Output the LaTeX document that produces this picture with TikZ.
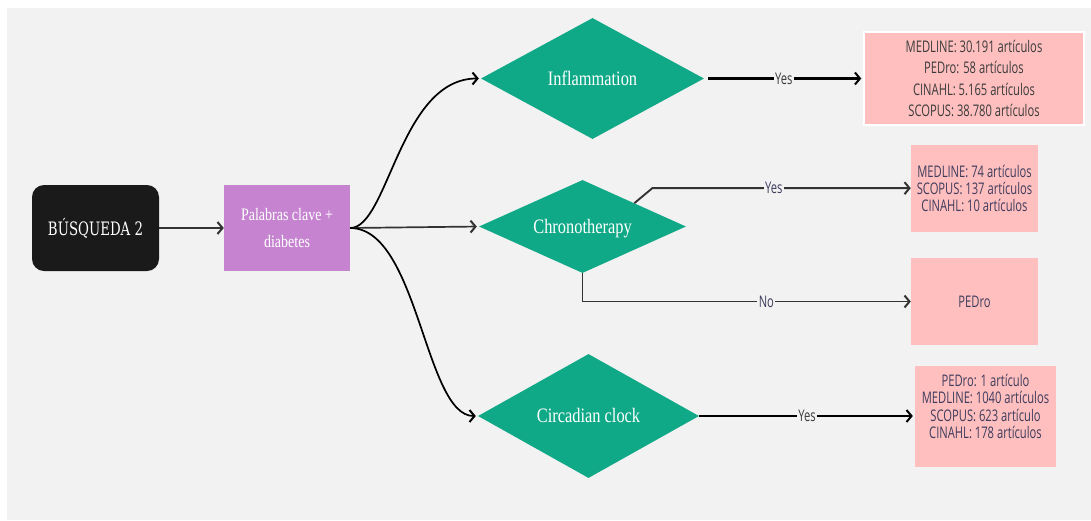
\documentclass[tikz,border=0pt]{standalone}
\usepackage{fontspec}
\usetikzlibrary{arrows.meta,shapes.geometric}
\newfontfamily\slabfont[FakeStretch=0.72]{DejaVu Serif}
\newfontfamily\gfont[FakeStretch=0.8]{Liberation Serif}
\newfontfamily\sfont[FakeStretch=0.7]{Open Sans}
\newcommand\dtxt[1]{\smash{\makebox[0pt]{\raisebox{-0.33em}{#1}}}}
\definecolor{bg}{HTML}{F2F2F2}
\definecolor{teal}{HTML}{0FA987}
\definecolor{purp}{HTML}{C583D0}
\definecolor{pinkb}{HTML}{FFBFBF}
\definecolor{inkd}{HTML}{1A1A1A}
\definecolor{txtg}{HTML}{3B3B3B}
\definecolor{txtb}{HTML}{3E3C5C}
\definecolor{lineg}{HTML}{333333}
\tikzset{
  startbox/.style={fill=inkd, rounded corners=12pt, minimum width=127pt, minimum height=86pt, inner sep=0pt, text=white, font=\slabfont\fontsize{18.5}{22}\selectfont},
  kwbox/.style={fill=purp, minimum width=126pt, minimum height=86pt, inner sep=0pt, text=white, align=center, font=\gfont\fontsize{17.5}{27}\selectfont},
  dec/.style={diamond, fill=teal, inner sep=0pt, text=white, font=\gfont\fontsize{20.5}{22}\selectfont},
  res/.style={fill=pinkb, inner sep=0pt, align=center, text=txtb, font=\sfont\fontsize{16}{17}\selectfont},
  restext/.style={inner sep=0pt, align=center, text=txtb, font=\sfont\fontsize{16}{17.2}\selectfont},
  lbl/.style={fill=bg, inner xsep=1.5pt, inner ysep=1pt, font=\sfont\fontsize{16}{17}\selectfont},
  tipb/.style={-{Straight Barb[length=5pt,width=12pt,line width=2pt]}},
  arrk/.style={tipb, line width=2.2pt, draw=black},
  arrg/.style={tipb, line width=1.9pt, draw=lineg},
  arrc/.style={tipb, line width=1.7pt, draw=black, shorten >=2pt},
}
\begin{document}
\begin{tikzpicture}[x=1pt,y=-1pt]
\useasboundingbox (0,0) rectangle (1091,520);
\fill[white] (0,0) rectangle (1091,520);
\fill[bg] (7,8) rectangle (1091,520);

\node[startbox] (busq) at (95.5,228) {BÚSQUEDA 2};
\node[kwbox] (kw) at (287,228) {Palabras clave +\\diabetes};

\node[dec, minimum width=223pt, minimum height=121pt] (infl) at (592.5,78.5) {\dtxt{Inflammation}};
\node[dec, minimum width=207pt, minimum height=93pt] (chrono) at (582.5,226.5) {\dtxt{Chronotherapy}};
\node[dec, minimum width=221pt, minimum height=124pt] (circ) at (588.5,416) {\dtxt{Circadian clock}};

\node[res, draw=white, line width=1.5pt, text=txtg, minimum width=220pt, minimum height=93pt, font=\sfont\fontsize{16}{21.5}\selectfont] (r1) at (974,78.5) {MEDLINE: 30.191 artículos\\PEDro: 58 artículos\\CINAHL: 5.165 artículos\\SCOPUS: 38.780 artículos};
\node[res, minimum width=127pt, minimum height=87pt] (r2) at (974.5,188.5) {MEDLINE: 74 artículos\\SCOPUS: 137 artículos\\CINAHL: 10 artículos};
\node[res, minimum width=127pt, minimum height=87pt] (r3) at (974.5,301.5) {PEDro};
\node[res, minimum width=141pt, minimum height=101pt] (r4) at (985.5,416) {};
\node[restext, text=txtb] (r4t) at ([yshift=9.5pt]r4.center) {PEDro: 1 artículo\\MEDLINE: 1040 artículos\\SCOPUS: 623 artículo\\CINAHL: 178 artículos};

\draw[arrg] (busq.east) -- (kw.west);
\draw[arrc] (kw.east) .. controls +(38,0) and +(-81,0) .. (infl.west);
\draw[arrg, line width=1.7pt, shorten >=2pt] (kw.east) -- (chrono.west);
\draw[arrc] (kw.east) .. controls +(68,0) and +(-53,0) .. (circ.west);

\draw[arrk, shorten <=4pt, shorten >=2pt] (infl.east) -- node[lbl, text=txtg]{Yes} (r1.west);
\draw[arrg] (chrono.north east) -- ++(18,-15) coordinate (k1) -- node[lbl, text=txtb, pos=0.47]{Yes} (k1 -| r2.west);
\draw[arrg] (chrono.south) -- (chrono.south |- r3.west) -- node[lbl, text=txtb, pos=0.56]{No} (r3.west);
\draw[arrk, shorten >=2pt] (circ.east) -- node[lbl, text=txtg]{Yes} (r4.west);
\end{tikzpicture}
\end{document}
